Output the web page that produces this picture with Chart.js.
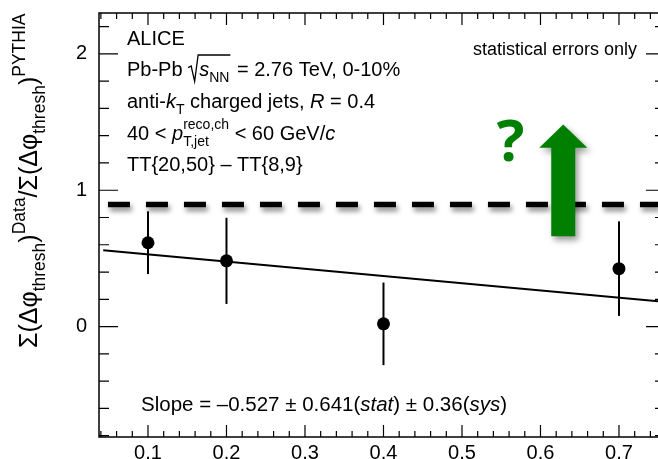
<!DOCTYPE html>
<html>
<head>
<meta charset="utf-8">
<script src="https://cdn.jsdelivr.net/npm/chart.js@4.4.1/dist/chart.umd.min.js"></script>
<style>
  html, body { margin: 0; padding: 0; background: #fff; }
  #box { width: 658px; height: 459px; }
</style>
</head>
<body>
<div id="box"><canvas id="chart" width="658" height="459"></canvas></div>
<script>
// measured ratio vs. trigger-track bin
const ptX = [0.1, 0.2, 0.4, 0.7];
const ptY = [0.615, 0.482, 0.020, 0.425];
const ptErr = [0.230, 0.316, 0.303, 0.347];

// straight-line fit
const fitX = [0.043, 0.75];
const fitY = [0.559, 0.186];

// dashed reference level
const refX = [0.049, 0.75];
const refY = [0.895, 0.895];

const xTicks = [0.1, 0.2, 0.3, 0.4, 0.5, 0.6, 0.7];
const yTicks = [0, 1, 2];

const FONT = '"Liberation Sans", Arial, Helvetica, sans-serif';
const GREEN = '#007f00';

// arrow and question mark, placed in axis units
const arrow = { x: 0.629, tip: 1.483, neck: 1.312, tail: 0.662 };
const qmark = { x: 0.562, y: 1.213 };

// draw a line of text built from pieces (italic, sub/superscript, root, stacked scripts)
function drawParts(ctx, x, y, parts, F) {
  let cx = x;
  const sF = F * 0.7;
  parts.forEach(p => {
    if (p.stack) {
      ctx.font = `${sF}px ${FONT}`;
      ctx.fillText(p.stack[0], cx, y - F * 0.55);
      ctx.fillText(p.stack[1], cx, y + F * 0.3);
      cx += Math.max(ctx.measureText(p.stack[0]).width, ctx.measureText(p.stack[1]).width);
      return;
    }
    if (p.root) {
      const top = y - F * 1.05, bot = y + F * 0.27;
      ctx.beginPath();
      ctx.moveTo(cx, y - F * 0.42);
      ctx.lineTo(cx + 3, y - F * 0.5);
      ctx.lineTo(cx + 6.5, bot);
      ctx.lineTo(cx + 10, top);
      const end = drawParts(ctx, cx + 11, y, p.root, F);
      ctx.lineTo(end + 1, top);
      ctx.lineWidth = 1.3;
      ctx.stroke();
      cx = end + 2;
      return;
    }
    const size = p.s ? sF : F;
    ctx.font = `${p.i ? 'italic ' : ''}${size}px ${FONT}`;
    const dy = p.s === 'sub' ? F * 0.3 : p.s === 'sup' ? -F * 0.5 : 0;
    ctx.fillText(p.t, cx, y + dy);
    cx += ctx.measureText(p.t).width;
  });
  return cx;
}

const infoLines = [
  [{ t: 'ALICE' }],
  [{ t: 'Pb-Pb ' }, { root: [{ t: 's', i: true }, { t: 'NN', s: 'sub' }] }, { t: ' = 2.76 TeV, 0-10%' }],
  [{ t: 'anti-' }, { t: 'k', i: true }, { t: 'T', s: 'sub' }, { t: ' charged jets, ' }, { t: 'R', i: true }, { t: ' = 0.4' }],
  [{ t: '40 < ' }, { t: 'p', i: true }, { stack: ['reco,ch', 'T,jet'] }, { t: ' < 60 GeV/' }, { t: 'c', i: true }],
  [{ t: 'TT{20,50} \u2013 TT{8,9}' }]
];
const slopeParts = [
  { t: 'Slope = \u20130.527 \u00b1 0.641(' }, { t: 'stat', i: true }, { t: ') \u00b1 0.36(' }, { t: 'sys', i: true }, { t: ')' }
];
const yTitle = [
  { t: '\u03a3(\u0394\u03c6' }, { t: 'thresh', s: 'sub' }, { t: ')' }, { t: 'Data', s: 'sup' },
  { t: '/\u03a3(\u0394\u03c6' }, { t: 'thresh', s: 'sub' }, { t: ')' }, { t: 'PYTHIA', s: 'sup' }
];

// vertical error bars under the markers
const errorBars = {
  id: 'errorBars',
  beforeDatasetsDraw(chart) {
    const { ctx, scales: { x, y } } = chart;
    ctx.save();
    ctx.strokeStyle = '#000';
    ctx.lineWidth = 2;
    ptX.forEach((v, i) => {
      const px = x.getPixelForValue(v);
      ctx.beginPath();
      ctx.moveTo(px, y.getPixelForValue(ptY[i] + ptErr[i]));
      ctx.lineTo(px, y.getPixelForValue(ptY[i] - ptErr[i]));
      ctx.stroke();
    });
    ctx.restore();
  }
};

// soft drop shadow under the dashed level
const shadow = {
  id: 'shadow',
  beforeDatasetDraw(chart, args) {
    if (args.index !== 2) return;
    const ctx = chart.ctx;
    ctx.save();
    ctx.shadowColor = 'rgba(0,0,0,0.45)';
    ctx.shadowBlur = 5;
    ctx.shadowOffsetX = 2;
    ctx.shadowOffsetY = 4;
  },
  afterDatasetDraw(chart, args) {
    if (args.index !== 2) return;
    chart.ctx.restore();
  }
};

// frame with inward ticks on all four sides, plus the arrow
const frame = {
  id: 'frame',
  afterDatasetsDraw(chart) {
    const { ctx, chartArea: a, scales: { x, y } } = chart;
    const right = a.right + 7;
    ctx.save();

    // green arrow
    const ax = x.getPixelForValue(arrow.x);
    const tip = y.getPixelForValue(arrow.tip);
    const neck = y.getPixelForValue(arrow.neck);
    const tail = y.getPixelForValue(arrow.tail);
    ctx.save();
    ctx.shadowColor = 'rgba(0,0,0,0.4)';
    ctx.shadowBlur = 6;
    ctx.shadowOffsetX = 3;
    ctx.shadowOffsetY = 4;
    ctx.fillStyle = GREEN;
    ctx.beginPath();
    ctx.moveTo(ax, tip);
    ctx.lineTo(ax + 24, neck);
    ctx.lineTo(ax + 12, neck);
    ctx.lineTo(ax + 12, tail);
    ctx.lineTo(ax - 12, tail);
    ctx.lineTo(ax - 12, neck);
    ctx.lineTo(ax - 24, neck);
    ctx.closePath();
    ctx.fill();
    ctx.restore();

    ctx.fillStyle = GREEN;
    ctx.font = `bold 58px "Open Sans", ${FONT}`;
    ctx.textAlign = 'center';
    ctx.textBaseline = 'alphabetic';
    ctx.fillText('?', x.getPixelForValue(qmark.x), y.getPixelForValue(qmark.y));

    ctx.strokeStyle = '#000';
    ctx.lineWidth = 1.5;
    ctx.strokeRect(a.left, a.top, right - a.left, a.bottom - a.top);

    ctx.lineWidth = 1.2;
    ctx.beginPath();
    for (let i = 1; i <= 40; i++) {
      const px = x.getPixelForValue(i / 50);
      if (px <= a.left + 1 || px >= right - 1) continue;
      const len = i % 5 === 0 ? 12 : 6;
      ctx.moveTo(px, a.bottom); ctx.lineTo(px, a.bottom - len);
      ctx.moveTo(px, a.top); ctx.lineTo(px, a.top + len);
    }
    for (let j = -5; j <= 12; j++) {
      const py = y.getPixelForValue(j / 5);
      if (py <= a.top + 1 || py >= a.bottom - 1) continue;
      const len = j % 5 === 0 ? 19 : 10;
      ctx.moveTo(a.left, py); ctx.lineTo(a.left + len, py);
      ctx.moveTo(right, py); ctx.lineTo(right - len, py);
    }
    ctx.stroke();
    ctx.restore();
  },
  afterDraw(chart) {
    const ctx = chart.ctx;
    ctx.save();
    ctx.fillStyle = '#000';
    ctx.strokeStyle = '#000';
    ctx.textBaseline = 'alphabetic';
    ctx.textAlign = 'left';

    const base = [45, 76, 108, 140, 171];
    infoLines.forEach((line, i) => drawParts(ctx, 127, base[i], line, 20));

    ctx.font = `18px ${FONT}`;
    ctx.textAlign = 'right';
    ctx.fillText('statistical errors only', 637, 55);
    ctx.textAlign = 'left';

    drawParts(ctx, 141, 411, slopeParts, 20.5);

    ctx.translate(37, 348);
    ctx.rotate(-Math.PI / 2);
    drawParts(ctx, 0, 0, yTitle, 25);
    ctx.restore();
  }
};

new Chart(document.getElementById('chart'), {
  type: 'scatter',
  data: {
    datasets: [
      {
        label: 'data',
        data: ptX.map((v, i) => ({ x: v, y: ptY[i] })),
        pointRadius: 6.5,
        pointBackgroundColor: '#000',
        pointBorderWidth: 0,
        order: 0
      },
      {
        label: 'fit',
        type: 'line',
        data: fitX.map((v, i) => ({ x: v, y: fitY[i] })),
        borderColor: '#000',
        borderWidth: 2,
        pointRadius: 0,
        order: 1
      },
      {
        label: 'level',
        type: 'line',
        data: refX.map((v, i) => ({ x: v, y: refY[i] })),
        borderColor: '#000',
        borderWidth: 5.5,
        borderDash: [22, 16],
        borderCapStyle: 'butt',
        pointRadius: 0,
        order: 2
      }
    ]
  },
  options: {
    responsive: false,
    animation: false,
    devicePixelRatio: 1,
    layout: { autoPadding: false, padding: { top: 13, right: 0, bottom: 0, left: 0 } },
    plugins: { legend: { display: false }, tooltip: { enabled: false } },
    scales: {
      x: {
        type: 'linear',
        min: 0.0376,
        max: 0.7497,
        grid: { display: false },
        border: { display: false },
        afterBuildTicks: s => { s.ticks = xTicks.map(v => ({ value: v })); },
        afterFit: s => {
          s.height = 22;
          s.paddingLeft = 0;
          s.paddingRight = 0;
        },
        ticks: {
          autoSkip: false,
          maxRotation: 0,
          padding: -4,
          color: '#000',
          font: { family: FONT, size: 20 },
          callback: v => v.toFixed(1)
        }
      },
      y: {
        type: 'linear',
        min: -0.81,
        max: 2.30,
        grid: { display: false },
        border: { display: false },
        afterBuildTicks: s => { s.ticks = yTicks.map(v => ({ value: v })); },
        afterFit: s => {
          s.width = 99;
          s.paddingTop = 0;
          s.paddingBottom = 0;
        },
        ticks: {
          padding: 4,
          color: '#000',
          font: { family: FONT, size: 20 },
          callback: v => String(v)
        }
      }
    }
  },
  plugins: [errorBars, shadow, frame]
});
</script>
</body>
</html>
